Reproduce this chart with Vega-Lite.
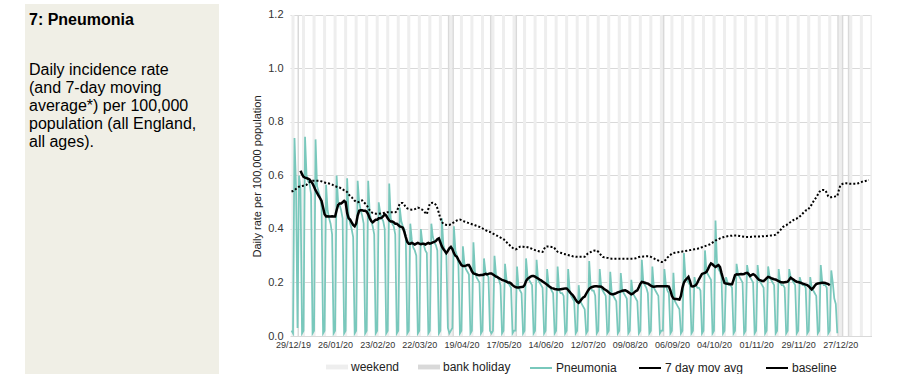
{
"$schema": "https://vega.github.io/schema/vega-lite/v6.json",
"padding": {"left": 25, "top": 4, "right": 0, "bottom": 0},
"spacing": 32,
"background": "white",
"config": {"view": {"stroke": null}, "font": "Liberation Sans", "legend": {"layout": {"bottom": {"anchor": "middle", "direction": "horizontal", "margin": 18}}}},
"resolve": {"scale": {"fill": "independent", "stroke": "independent"}, "legend": {"fill": "independent", "stroke": "independent"}},
"datasets": {
"weekends": [
{"s":"2019-12-28","e":"2019-12-30"},{"s":"2020-01-04","e":"2020-01-06"},{"s":"2020-01-11","e":"2020-01-13"},{"s":"2020-01-18","e":"2020-01-20"},{"s":"2020-01-25","e":"2020-01-27"},{"s":"2020-02-01","e":"2020-02-03"},{"s":"2020-02-08","e":"2020-02-10"},{"s":"2020-02-15","e":"2020-02-17"},{"s":"2020-02-22","e":"2020-02-24"},{"s":"2020-02-29","e":"2020-03-02"},{"s":"2020-03-07","e":"2020-03-09"},{"s":"2020-03-14","e":"2020-03-16"},{"s":"2020-03-21","e":"2020-03-23"},{"s":"2020-03-28","e":"2020-03-30"},{"s":"2020-04-04","e":"2020-04-06"},{"s":"2020-04-11","e":"2020-04-13"},{"s":"2020-04-18","e":"2020-04-20"},{"s":"2020-04-25","e":"2020-04-27"},{"s":"2020-05-02","e":"2020-05-04"},{"s":"2020-05-09","e":"2020-05-11"},{"s":"2020-05-16","e":"2020-05-18"},{"s":"2020-05-23","e":"2020-05-25"},{"s":"2020-05-30","e":"2020-06-01"},{"s":"2020-06-06","e":"2020-06-08"},{"s":"2020-06-13","e":"2020-06-15"},{"s":"2020-06-20","e":"2020-06-22"},{"s":"2020-06-27","e":"2020-06-29"},{"s":"2020-07-04","e":"2020-07-06"},{"s":"2020-07-11","e":"2020-07-13"},{"s":"2020-07-18","e":"2020-07-20"},{"s":"2020-07-25","e":"2020-07-27"},{"s":"2020-08-01","e":"2020-08-03"},{"s":"2020-08-08","e":"2020-08-10"},{"s":"2020-08-15","e":"2020-08-17"},{"s":"2020-08-22","e":"2020-08-24"},{"s":"2020-08-29","e":"2020-08-31"},{"s":"2020-09-05","e":"2020-09-07"},{"s":"2020-09-12","e":"2020-09-14"},{"s":"2020-09-19","e":"2020-09-21"},{"s":"2020-09-26","e":"2020-09-28"},{"s":"2020-10-03","e":"2020-10-05"},{"s":"2020-10-10","e":"2020-10-12"},{"s":"2020-10-17","e":"2020-10-19"},{"s":"2020-10-24","e":"2020-10-26"},{"s":"2020-10-31","e":"2020-11-02"},{"s":"2020-11-07","e":"2020-11-09"},{"s":"2020-11-14","e":"2020-11-16"},{"s":"2020-11-21","e":"2020-11-23"},{"s":"2020-11-28","e":"2020-11-30"},{"s":"2020-12-05","e":"2020-12-07"},{"s":"2020-12-12","e":"2020-12-14"},{"s":"2020-12-19","e":"2020-12-21"},{"s":"2020-12-26","e":"2020-12-28"},{"s":"2021-01-02","e":"2021-01-04"},{"s":"2021-01-09","e":"2021-01-11"},{"s":"2021-01-16","e":"2021-01-18"}
],
"holidays": [
{"s":"2020-01-01","e":"2020-01-02"},{"s":"2020-04-10","e":"2020-04-11"},{"s":"2020-04-13","e":"2020-04-14"},{"s":"2020-05-08","e":"2020-05-09"},{"s":"2020-05-25","e":"2020-05-26"},{"s":"2020-08-31","e":"2020-09-01"},{"s":"2020-12-25","e":"2020-12-26"},{"s":"2020-12-28","e":"2020-12-29"},{"s":"2021-01-01","e":"2021-01-02"}
],
"daily": [
{"d":"2019-12-28","p":0.02,"b":0.54},
{"d":"2019-12-29","p":0.01,"b":0.542},
{"d":"2019-12-30","p":0.74,"b":0.545},
{"d":"2019-12-31","p":0.56,"b":0.55},
{"d":"2020-01-01","p":0.03,"b":0.555},
{"d":"2020-01-02","p":0.60,"b":0.558},
{"d":"2020-01-03","p":0.55,"m":0.618,"b":0.56},
{"d":"2020-01-04","p":0.01,"m":0.605,"b":0.561},
{"d":"2020-01-05","p":0.02,"m":0.595,"b":0.562},
{"d":"2020-01-06","p":0.745,"m":0.592,"b":0.563},
{"d":"2020-01-07","p":0.60,"m":0.59,"b":0.565},
{"d":"2020-01-08","p":0.58,"m":0.588,"b":0.57},
{"d":"2020-01-09","p":0.57,"m":0.585,"b":0.575},
{"d":"2020-01-10","p":0.53,"m":0.578,"b":0.578},
{"d":"2020-01-11","p":0.01,"m":0.57,"b":0.58},
{"d":"2020-01-12","p":0.02,"m":0.558,"b":0.58},
{"d":"2020-01-13","p":0.735,"m":0.545,"b":0.58},
{"d":"2020-01-14","p":0.56,"m":0.535,"b":0.58},
{"d":"2020-01-15","p":0.54,"m":0.525,"b":0.58},
{"d":"2020-01-16","p":0.52,"m":0.515,"b":0.58},
{"d":"2020-01-17","p":0.48,"m":0.505,"b":0.578},
{"d":"2020-01-18","p":0.01,"m":0.48,"b":0.576},
{"d":"2020-01-19","p":0.02,"m":0.455,"b":0.574},
{"d":"2020-01-20","p":0.565,"m":0.447,"b":0.572},
{"d":"2020-01-21","p":0.47,"m":0.448,"b":0.571},
{"d":"2020-01-22","p":0.44,"m":0.447,"b":0.57},
{"d":"2020-01-23","p":0.42,"m":0.447,"b":0.568},
{"d":"2020-01-24","p":0.38,"m":0.448,"b":0.566},
{"d":"2020-01-25","p":0.01,"m":0.447,"b":0.563},
{"d":"2020-01-26","p":0.02,"m":0.447,"b":0.56},
{"d":"2020-01-27","p":0.60,"m":0.47,"b":0.558},
{"d":"2020-01-28","p":0.50,"m":0.49,"b":0.556},
{"d":"2020-01-29","p":0.49,"m":0.495,"b":0.555},
{"d":"2020-01-30","p":0.47,"m":0.495,"b":0.552},
{"d":"2020-01-31","p":0.44,"m":0.50,"b":0.548},
{"d":"2020-02-01","p":0.01,"m":0.505,"b":0.545},
{"d":"2020-02-02","p":0.02,"m":0.50,"b":0.543},
{"d":"2020-02-03","p":0.59,"m":0.46,"b":0.538},
{"d":"2020-02-04","p":0.45,"m":0.44,"b":0.53},
{"d":"2020-02-05","p":0.42,"m":0.435,"b":0.523},
{"d":"2020-02-06","p":0.40,"m":0.425,"b":0.519},
{"d":"2020-02-07","p":0.37,"m":0.415,"b":0.512},
{"d":"2020-02-08","p":0.01,"m":0.41,"b":0.506},
{"d":"2020-02-09","p":0.02,"m":0.42,"b":0.502},
{"d":"2020-02-10","p":0.58,"m":0.45,"b":0.50},
{"d":"2020-02-11","p":0.50,"m":0.468,"b":0.502},
{"d":"2020-02-12","p":0.47,"m":0.47,"b":0.505},
{"d":"2020-02-13","p":0.45,"m":0.47,"b":0.507},
{"d":"2020-02-14","p":0.42,"m":0.468,"b":0.50},
{"d":"2020-02-15","p":0.01,"m":0.468,"b":0.495},
{"d":"2020-02-16","p":0.02,"m":0.465,"b":0.489},
{"d":"2020-02-17","p":0.58,"m":0.455,"b":0.48},
{"d":"2020-02-18","p":0.46,"m":0.44,"b":0.47},
{"d":"2020-02-19","p":0.43,"m":0.43,"b":0.463},
{"d":"2020-02-20","p":0.41,"m":0.425,"b":0.46},
{"d":"2020-02-21","p":0.38,"m":0.43,"b":0.458},
{"d":"2020-02-22","p":0.01,"m":0.435,"b":0.457},
{"d":"2020-02-23","p":0.02,"m":0.435,"b":0.457},
{"d":"2020-02-24","p":0.50,"m":0.44,"b":0.457},
{"d":"2020-02-25","p":0.46,"m":0.44,"b":0.458},
{"d":"2020-02-26","p":0.44,"m":0.442,"b":0.459},
{"d":"2020-02-27","p":0.43,"m":0.448,"b":0.46},
{"d":"2020-02-28","p":0.40,"m":0.455,"b":0.461},
{"d":"2020-02-29","p":0.01,"m":0.45,"b":0.462},
{"d":"2020-03-01","p":0.02,"m":0.44,"b":0.463},
{"d":"2020-03-02","p":0.57,"m":0.432,"b":0.463},
{"d":"2020-03-03","p":0.44,"m":0.428,"b":0.463},
{"d":"2020-03-04","p":0.42,"m":0.428,"b":0.463},
{"d":"2020-03-05","p":0.41,"m":0.425,"b":0.463},
{"d":"2020-03-06","p":0.38,"m":0.42,"b":0.463},
{"d":"2020-03-07","p":0.01,"m":0.42,"b":0.465},
{"d":"2020-03-08","p":0.02,"m":0.415,"b":0.48},
{"d":"2020-03-09","p":0.48,"m":0.41,"b":0.495},
{"d":"2020-03-10","p":0.43,"m":0.408,"b":0.497},
{"d":"2020-03-11","p":0.41,"m":0.405,"b":0.497},
{"d":"2020-03-12","p":0.40,"m":0.39,"b":0.49},
{"d":"2020-03-13","p":0.37,"m":0.37,"b":0.482},
{"d":"2020-03-14","p":0.01,"m":0.352,"b":0.477},
{"d":"2020-03-15","p":0.02,"m":0.345,"b":0.475},
{"d":"2020-03-16","p":0.42,"m":0.345,"b":0.473},
{"d":"2020-03-17","p":0.36,"m":0.348,"b":0.472},
{"d":"2020-03-18","p":0.33,"m":0.345,"b":0.472},
{"d":"2020-03-19","p":0.32,"m":0.342,"b":0.474},
{"d":"2020-03-20","p":0.30,"m":0.345,"b":0.477},
{"d":"2020-03-21","p":0.01,"m":0.348,"b":0.48},
{"d":"2020-03-22","p":0.02,"m":0.345,"b":0.478},
{"d":"2020-03-23","p":0.40,"m":0.343,"b":0.475},
{"d":"2020-03-24","p":0.35,"m":0.345,"b":0.472},
{"d":"2020-03-25","p":0.34,"m":0.345,"b":0.468},
{"d":"2020-03-26","p":0.32,"m":0.342,"b":0.46},
{"d":"2020-03-27","p":0.31,"m":0.345,"b":0.455},
{"d":"2020-03-28","p":0.01,"m":0.348,"b":0.475},
{"d":"2020-03-29","p":0.02,"m":0.345,"b":0.495},
{"d":"2020-03-30","p":0.42,"m":0.347,"b":0.497},
{"d":"2020-03-31","p":0.37,"m":0.35,"b":0.498},
{"d":"2020-04-01","p":0.35,"m":0.352,"b":0.497},
{"d":"2020-04-02","p":0.34,"m":0.355,"b":0.49},
{"d":"2020-04-03","p":0.32,"m":0.362,"b":0.478},
{"d":"2020-04-04","p":0.01,"m":0.365,"b":0.46},
{"d":"2020-04-05","p":0.02,"m":0.35,"b":0.44},
{"d":"2020-04-06","p":0.44,"m":0.335,"b":0.426},
{"d":"2020-04-07","p":0.34,"m":0.325,"b":0.42},
{"d":"2020-04-08","p":0.32,"m":0.318,"b":0.417},
{"d":"2020-04-09","p":0.30,"m":0.31,"b":0.415},
{"d":"2020-04-10","p":0.03,"m":0.318,"b":0.414},
{"d":"2020-04-11","p":0.01,"m":0.328,"b":0.415},
{"d":"2020-04-12","p":0.02,"m":0.333,"b":0.418},
{"d":"2020-04-13","p":0.03,"m":0.325,"b":0.422},
{"d":"2020-04-14","p":0.41,"m":0.31,"b":0.425},
{"d":"2020-04-15","p":0.32,"m":0.30,"b":0.428},
{"d":"2020-04-16","p":0.30,"m":0.296,"b":0.432},
{"d":"2020-04-17","p":0.27,"m":0.285,"b":0.434},
{"d":"2020-04-18","p":0.01,"m":0.275,"b":0.435},
{"d":"2020-04-19","p":0.02,"m":0.265,"b":0.433},
{"d":"2020-04-20","p":0.335,"m":0.262,"b":0.43},
{"d":"2020-04-21","p":0.27,"m":0.262,"b":0.428},
{"d":"2020-04-22","p":0.25,"m":0.263,"b":0.426},
{"d":"2020-04-23","p":0.24,"m":0.265,"b":0.424},
{"d":"2020-04-24","p":0.23,"m":0.265,"b":0.422},
{"d":"2020-04-25","p":0.01,"m":0.255,"b":0.42},
{"d":"2020-04-26","p":0.02,"m":0.242,"b":0.418},
{"d":"2020-04-27","p":0.35,"m":0.234,"b":0.416},
{"d":"2020-04-28","p":0.24,"m":0.232,"b":0.414},
{"d":"2020-04-29","p":0.22,"m":0.23,"b":0.412},
{"d":"2020-04-30","p":0.21,"m":0.228,"b":0.41},
{"d":"2020-05-01","p":0.20,"m":0.227,"b":0.408},
{"d":"2020-05-02","p":0.01,"m":0.228,"b":0.405},
{"d":"2020-05-03","p":0.02,"m":0.228,"b":0.402},
{"d":"2020-05-04","p":0.29,"m":0.23,"b":0.399},
{"d":"2020-05-05","p":0.24,"m":0.232,"b":0.396},
{"d":"2020-05-06","p":0.23,"m":0.23,"b":0.393},
{"d":"2020-05-07","p":0.22,"m":0.232,"b":0.39},
{"d":"2020-05-08","p":0.02,"m":0.234,"b":0.389},
{"d":"2020-05-09","p":0.01,"m":0.234,"b":0.386},
{"d":"2020-05-10","p":0.02,"m":0.23,"b":0.383},
{"d":"2020-05-11","p":0.30,"m":0.226,"b":0.38},
{"d":"2020-05-12","p":0.23,"m":0.222,"b":0.377},
{"d":"2020-05-13","p":0.22,"m":0.22,"b":0.374},
{"d":"2020-05-14","p":0.21,"m":0.216,"b":0.371},
{"d":"2020-05-15","p":0.19,"m":0.213,"b":0.368},
{"d":"2020-05-16","p":0.01,"m":0.21,"b":0.365},
{"d":"2020-05-17","p":0.02,"m":0.208,"b":0.362},
{"d":"2020-05-18","p":0.27,"m":0.206,"b":0.357},
{"d":"2020-05-19","p":0.21,"m":0.203,"b":0.351},
{"d":"2020-05-20","p":0.20,"m":0.20,"b":0.345},
{"d":"2020-05-21","p":0.19,"m":0.20,"b":0.34},
{"d":"2020-05-22","p":0.18,"m":0.196,"b":0.335},
{"d":"2020-05-23","p":0.01,"m":0.19,"b":0.33},
{"d":"2020-05-24","p":0.02,"m":0.186,"b":0.326},
{"d":"2020-05-25","p":0.02,"m":0.183,"b":0.324},
{"d":"2020-05-26","p":0.26,"m":0.181,"b":0.326},
{"d":"2020-05-27","p":0.18,"m":0.181,"b":0.33},
{"d":"2020-05-28","p":0.17,"m":0.182,"b":0.334},
{"d":"2020-05-29","p":0.16,"m":0.183,"b":0.335},
{"d":"2020-05-30","p":0.01,"m":0.184,"b":0.334},
{"d":"2020-05-31","p":0.02,"m":0.19,"b":0.333},
{"d":"2020-06-01","p":0.29,"m":0.205,"b":0.333},
{"d":"2020-06-02","p":0.22,"m":0.214,"b":0.332},
{"d":"2020-06-03","p":0.21,"m":0.218,"b":0.33},
{"d":"2020-06-04","p":0.20,"m":0.222,"b":0.328},
{"d":"2020-06-05","p":0.19,"m":0.224,"b":0.326},
{"d":"2020-06-06","p":0.01,"m":0.224,"b":0.323},
{"d":"2020-06-07","p":0.02,"m":0.222,"b":0.321},
{"d":"2020-06-08","p":0.285,"m":0.218,"b":0.32},
{"d":"2020-06-09","p":0.21,"m":0.215,"b":0.318},
{"d":"2020-06-10","p":0.20,"m":0.211,"b":0.316},
{"d":"2020-06-11","p":0.19,"m":0.208,"b":0.315},
{"d":"2020-06-12","p":0.18,"m":0.204,"b":0.314},
{"d":"2020-06-13","p":0.01,"m":0.20,"b":0.325},
{"d":"2020-06-14","p":0.02,"m":0.196,"b":0.334},
{"d":"2020-06-15","p":0.25,"m":0.192,"b":0.335},
{"d":"2020-06-16","p":0.19,"m":0.187,"b":0.335},
{"d":"2020-06-17","p":0.18,"m":0.183,"b":0.334},
{"d":"2020-06-18","p":0.17,"m":0.179,"b":0.333},
{"d":"2020-06-19","p":0.16,"m":0.178,"b":0.333},
{"d":"2020-06-20","p":0.01,"m":0.176,"b":0.328},
{"d":"2020-06-21","p":0.02,"m":0.175,"b":0.32},
{"d":"2020-06-22","p":0.26,"m":0.174,"b":0.315},
{"d":"2020-06-23","p":0.17,"m":0.174,"b":0.313},
{"d":"2020-06-24","p":0.16,"m":0.175,"b":0.311},
{"d":"2020-06-25","p":0.16,"m":0.176,"b":0.309},
{"d":"2020-06-26","p":0.15,"m":0.177,"b":0.307},
{"d":"2020-06-27","p":0.01,"m":0.178,"b":0.306},
{"d":"2020-06-28","p":0.02,"m":0.178,"b":0.305},
{"d":"2020-06-29","p":0.25,"m":0.172,"b":0.303},
{"d":"2020-06-30","p":0.17,"m":0.165,"b":0.301},
{"d":"2020-07-01","p":0.15,"m":0.158,"b":0.30},
{"d":"2020-07-02","p":0.14,"m":0.153,"b":0.298},
{"d":"2020-07-03","p":0.13,"m":0.145,"b":0.297},
{"d":"2020-07-04","p":0.01,"m":0.135,"b":0.296},
{"d":"2020-07-05","p":0.02,"m":0.128,"b":0.296},
{"d":"2020-07-06","p":0.19,"m":0.124,"b":0.296},
{"d":"2020-07-07","p":0.13,"m":0.13,"b":0.296},
{"d":"2020-07-08","p":0.12,"m":0.138,"b":0.296},
{"d":"2020-07-09","p":0.11,"m":0.144,"b":0.296},
{"d":"2020-07-10","p":0.10,"m":0.147,"b":0.296},
{"d":"2020-07-11","p":0.01,"m":0.158,"b":0.302},
{"d":"2020-07-12","p":0.02,"m":0.168,"b":0.308},
{"d":"2020-07-13","p":0.28,"m":0.176,"b":0.312},
{"d":"2020-07-14","p":0.18,"m":0.181,"b":0.314},
{"d":"2020-07-15","p":0.17,"m":0.183,"b":0.317},
{"d":"2020-07-16","p":0.17,"m":0.185,"b":0.319},
{"d":"2020-07-17","p":0.15,"m":0.186,"b":0.32},
{"d":"2020-07-18","p":0.01,"m":0.186,"b":0.32},
{"d":"2020-07-19","p":0.02,"m":0.185,"b":0.315},
{"d":"2020-07-20","p":0.25,"m":0.185,"b":0.308},
{"d":"2020-07-21","p":0.18,"m":0.184,"b":0.302},
{"d":"2020-07-22","p":0.17,"m":0.18,"b":0.296},
{"d":"2020-07-23","p":0.16,"m":0.175,"b":0.294},
{"d":"2020-07-24","p":0.15,"m":0.172,"b":0.293},
{"d":"2020-07-25","p":0.01,"m":0.168,"b":0.292},
{"d":"2020-07-26","p":0.02,"m":0.163,"b":0.291},
{"d":"2020-07-27","p":0.24,"m":0.158,"b":0.29},
{"d":"2020-07-28","p":0.16,"m":0.156,"b":0.289},
{"d":"2020-07-29","p":0.15,"m":0.156,"b":0.289},
{"d":"2020-07-30","p":0.14,"m":0.158,"b":0.289},
{"d":"2020-07-31","p":0.13,"m":0.16,"b":0.289},
{"d":"2020-08-01","p":0.01,"m":0.163,"b":0.289},
{"d":"2020-08-02","p":0.02,"m":0.165,"b":0.289},
{"d":"2020-08-03","p":0.235,"m":0.167,"b":0.289},
{"d":"2020-08-04","p":0.17,"m":0.169,"b":0.289},
{"d":"2020-08-05","p":0.16,"m":0.17,"b":0.289},
{"d":"2020-08-06","p":0.15,"m":0.171,"b":0.289},
{"d":"2020-08-07","p":0.14,"m":0.168,"b":0.289},
{"d":"2020-08-08","p":0.01,"m":0.164,"b":0.289},
{"d":"2020-08-09","p":0.02,"m":0.16,"b":0.289},
{"d":"2020-08-10","p":0.21,"m":0.156,"b":0.289},
{"d":"2020-08-11","p":0.16,"m":0.158,"b":0.289},
{"d":"2020-08-12","p":0.15,"m":0.163,"b":0.29},
{"d":"2020-08-13","p":0.14,"m":0.168,"b":0.291},
{"d":"2020-08-14","p":0.13,"m":0.171,"b":0.293},
{"d":"2020-08-15","p":0.01,"m":0.182,"b":0.295},
{"d":"2020-08-16","p":0.02,"m":0.195,"b":0.296},
{"d":"2020-08-17","p":0.285,"m":0.202,"b":0.296},
{"d":"2020-08-18","p":0.20,"m":0.201,"b":0.297},
{"d":"2020-08-19","p":0.19,"m":0.199,"b":0.297},
{"d":"2020-08-20","p":0.18,"m":0.197,"b":0.298},
{"d":"2020-08-21","p":0.16,"m":0.196,"b":0.298},
{"d":"2020-08-22","p":0.01,"m":0.192,"b":0.298},
{"d":"2020-08-23","p":0.02,"m":0.188,"b":0.296},
{"d":"2020-08-24","p":0.26,"m":0.185,"b":0.293},
{"d":"2020-08-25","p":0.18,"m":0.184,"b":0.29},
{"d":"2020-08-26","p":0.17,"m":0.185,"b":0.287},
{"d":"2020-08-27","p":0.16,"m":0.186,"b":0.285},
{"d":"2020-08-28","p":0.15,"m":0.186,"b":0.282},
{"d":"2020-08-29","p":0.01,"m":0.186,"b":0.279},
{"d":"2020-08-30","p":0.02,"m":0.186,"b":0.277},
{"d":"2020-08-31","p":0.02,"m":0.186,"b":0.277},
{"d":"2020-09-01","p":0.25,"m":0.186,"b":0.28},
{"d":"2020-09-02","p":0.19,"m":0.186,"b":0.286},
{"d":"2020-09-03","p":0.17,"m":0.186,"b":0.293},
{"d":"2020-09-04","p":0.16,"m":0.185,"b":0.298},
{"d":"2020-09-05","p":0.01,"m":0.17,"b":0.303},
{"d":"2020-09-06","p":0.02,"m":0.15,"b":0.308},
{"d":"2020-09-07","p":0.236,"m":0.14,"b":0.31},
{"d":"2020-09-08","p":0.13,"m":0.138,"b":0.311},
{"d":"2020-09-09","p":0.12,"m":0.138,"b":0.312},
{"d":"2020-09-10","p":0.11,"m":0.137,"b":0.313},
{"d":"2020-09-11","p":0.10,"m":0.136,"b":0.314},
{"d":"2020-09-12","p":0.01,"m":0.15,"b":0.315},
{"d":"2020-09-13","p":0.02,"m":0.18,"b":0.316},
{"d":"2020-09-14","p":0.31,"m":0.20,"b":0.317},
{"d":"2020-09-15","p":0.22,"m":0.209,"b":0.318},
{"d":"2020-09-16","p":0.21,"m":0.215,"b":0.319},
{"d":"2020-09-17","p":0.20,"m":0.221,"b":0.32},
{"d":"2020-09-18","p":0.19,"m":0.205,"b":0.321},
{"d":"2020-09-19","p":0.01,"m":0.186,"b":0.322},
{"d":"2020-09-20","p":0.02,"m":0.185,"b":0.323},
{"d":"2020-09-21","p":0.22,"m":0.187,"b":0.324},
{"d":"2020-09-22","p":0.19,"m":0.19,"b":0.325},
{"d":"2020-09-23","p":0.18,"m":0.20,"b":0.326},
{"d":"2020-09-24","p":0.18,"m":0.212,"b":0.328},
{"d":"2020-09-25","p":0.17,"m":0.222,"b":0.33},
{"d":"2020-09-26","p":0.01,"m":0.232,"b":0.332},
{"d":"2020-09-27","p":0.02,"m":0.234,"b":0.334},
{"d":"2020-09-28","p":0.32,"m":0.236,"b":0.336},
{"d":"2020-09-29","p":0.24,"m":0.24,"b":0.338},
{"d":"2020-09-30","p":0.23,"m":0.25,"b":0.34},
{"d":"2020-10-01","p":0.22,"m":0.262,"b":0.342},
{"d":"2020-10-02","p":0.21,"m":0.271,"b":0.345},
{"d":"2020-10-03","p":0.01,"m":0.268,"b":0.349},
{"d":"2020-10-04","p":0.02,"m":0.262,"b":0.353},
{"d":"2020-10-05","p":0.432,"m":0.258,"b":0.357},
{"d":"2020-10-06","p":0.27,"m":0.262,"b":0.36},
{"d":"2020-10-07","p":0.25,"m":0.265,"b":0.362},
{"d":"2020-10-08","p":0.24,"m":0.258,"b":0.365},
{"d":"2020-10-09","p":0.22,"m":0.235,"b":0.367},
{"d":"2020-10-10","p":0.01,"m":0.215,"b":0.369},
{"d":"2020-10-11","p":0.02,"m":0.198,"b":0.371},
{"d":"2020-10-12","p":0.22,"m":0.196,"b":0.372},
{"d":"2020-10-13","p":0.20,"m":0.195,"b":0.373},
{"d":"2020-10-14","p":0.19,"m":0.194,"b":0.374},
{"d":"2020-10-15","p":0.19,"m":0.193,"b":0.375},
{"d":"2020-10-16","p":0.18,"m":0.193,"b":0.375},
{"d":"2020-10-17","p":0.01,"m":0.21,"b":0.376},
{"d":"2020-10-18","p":0.02,"m":0.228,"b":0.376},
{"d":"2020-10-19","p":0.27,"m":0.231,"b":0.376},
{"d":"2020-10-20","p":0.23,"m":0.23,"b":0.375},
{"d":"2020-10-21","p":0.22,"m":0.231,"b":0.374},
{"d":"2020-10-22","p":0.21,"m":0.232,"b":0.373},
{"d":"2020-10-23","p":0.20,"m":0.231,"b":0.372},
{"d":"2020-10-24","p":0.01,"m":0.232,"b":0.371},
{"d":"2020-10-25","p":0.02,"m":0.235,"b":0.37},
{"d":"2020-10-26","p":0.265,"m":0.236,"b":0.37},
{"d":"2020-10-27","p":0.23,"m":0.232,"b":0.37},
{"d":"2020-10-28","p":0.22,"m":0.224,"b":0.37},
{"d":"2020-10-29","p":0.21,"m":0.228,"b":0.371},
{"d":"2020-10-30","p":0.20,"m":0.231,"b":0.371},
{"d":"2020-10-31","p":0.01,"m":0.228,"b":0.372},
{"d":"2020-11-01","p":0.02,"m":0.222,"b":0.372},
{"d":"2020-11-02","p":0.265,"m":0.215,"b":0.372},
{"d":"2020-11-03","p":0.21,"m":0.21,"b":0.372},
{"d":"2020-11-04","p":0.20,"m":0.208,"b":0.372},
{"d":"2020-11-05","p":0.19,"m":0.206,"b":0.373},
{"d":"2020-11-06","p":0.18,"m":0.206,"b":0.373},
{"d":"2020-11-07","p":0.01,"m":0.21,"b":0.374},
{"d":"2020-11-08","p":0.02,"m":0.216,"b":0.374},
{"d":"2020-11-09","p":0.26,"m":0.221,"b":0.375},
{"d":"2020-11-10","p":0.22,"m":0.219,"b":0.375},
{"d":"2020-11-11","p":0.21,"m":0.216,"b":0.376},
{"d":"2020-11-12","p":0.20,"m":0.214,"b":0.376},
{"d":"2020-11-13","p":0.19,"m":0.212,"b":0.377},
{"d":"2020-11-14","p":0.01,"m":0.211,"b":0.379},
{"d":"2020-11-15","p":0.02,"m":0.208,"b":0.384},
{"d":"2020-11-16","p":0.25,"m":0.205,"b":0.389},
{"d":"2020-11-17","p":0.20,"m":0.202,"b":0.395},
{"d":"2020-11-18","p":0.19,"m":0.201,"b":0.402},
{"d":"2020-11-19","p":0.19,"m":0.20,"b":0.408},
{"d":"2020-11-20","p":0.18,"m":0.201,"b":0.412},
{"d":"2020-11-21","p":0.01,"m":0.202,"b":0.414},
{"d":"2020-11-22","p":0.02,"m":0.203,"b":0.418},
{"d":"2020-11-23","p":0.25,"m":0.21,"b":0.422},
{"d":"2020-11-24","p":0.22,"m":0.218,"b":0.426},
{"d":"2020-11-25","p":0.21,"m":0.214,"b":0.43},
{"d":"2020-11-26","p":0.20,"m":0.21,"b":0.434},
{"d":"2020-11-27","p":0.19,"m":0.206,"b":0.438},
{"d":"2020-11-28","p":0.01,"m":0.203,"b":0.439},
{"d":"2020-11-29","p":0.02,"m":0.202,"b":0.442},
{"d":"2020-11-30","p":0.22,"m":0.20,"b":0.447},
{"d":"2020-12-01","p":0.20,"m":0.198,"b":0.452},
{"d":"2020-12-02","p":0.19,"m":0.196,"b":0.458},
{"d":"2020-12-03","p":0.19,"m":0.194,"b":0.464},
{"d":"2020-12-04","p":0.18,"m":0.192,"b":0.469},
{"d":"2020-12-05","p":0.01,"m":0.19,"b":0.47},
{"d":"2020-12-06","p":0.02,"m":0.186,"b":0.476},
{"d":"2020-12-07","p":0.22,"m":0.18,"b":0.483},
{"d":"2020-12-08","p":0.18,"m":0.174,"b":0.492},
{"d":"2020-12-09","p":0.17,"m":0.18,"b":0.502},
{"d":"2020-12-10","p":0.16,"m":0.188,"b":0.511},
{"d":"2020-12-11","p":0.15,"m":0.194,"b":0.518},
{"d":"2020-12-12","p":0.01,"m":0.196,"b":0.528},
{"d":"2020-12-13","p":0.02,"m":0.197,"b":0.538},
{"d":"2020-12-14","p":0.265,"m":0.198,"b":0.544},
{"d":"2020-12-15","p":0.20,"m":0.199,"b":0.546},
{"d":"2020-12-16","p":0.19,"m":0.199,"b":0.546},
{"d":"2020-12-17","p":0.19,"m":0.198,"b":0.545},
{"d":"2020-12-18","p":0.18,"m":0.196,"b":0.535},
{"d":"2020-12-19","p":0.01,"m":0.194,"b":0.522},
{"d":"2020-12-20","p":0.02,"m":0.19,"b":0.519},
{"d":"2020-12-21","p":0.245,"b":0.519},
{"d":"2020-12-22","p":0.20,"b":0.52},
{"d":"2020-12-23","p":0.14,"b":0.521},
{"d":"2020-12-24","p":0.12,"b":0.522},
{"d":"2020-12-25","p":0.01,"b":0.523},
{"d":"2020-12-26","b":0.545},
{"d":"2020-12-27","b":0.563},
{"d":"2020-12-28","b":0.567},
{"d":"2020-12-29","b":0.57},
{"d":"2020-12-30","b":0.571},
{"d":"2020-12-31","b":0.571},
{"d":"2021-01-01","b":0.57},
{"d":"2021-01-02","b":0.569},
{"d":"2021-01-03","b":0.569},
{"d":"2021-01-04","b":0.569},
{"d":"2021-01-05","b":0.569},
{"d":"2021-01-06","b":0.569},
{"d":"2021-01-07","b":0.569},
{"d":"2021-01-08","b":0.571},
{"d":"2021-01-09","b":0.573},
{"d":"2021-01-10","b":0.575},
{"d":"2021-01-11","b":0.578},
{"d":"2021-01-12","b":0.578},
{"d":"2021-01-13","b":0.58},
{"d":"2021-01-14","b":0.582},
{"d":"2021-01-15","b":0.583}
]
},
"hconcat": [
{
"width": 194, "height": 370,
"view": {"fill": "#f0efe6", "stroke": null},
"title": {
"text": "7: Pneumonia",
"subtitle": ["Daily incidence rate", "(and 7-day moving", "average*) per 100,000", "population (all England,", "all ages)."],
"anchor": "start", "frame": "group", "orient": "top", "offset": -146, "dx": 4,
"font": "Liberation Sans", "fontSize": 16, "fontWeight": "bold", "color": "#000000",
"subtitleFont": "Liberation Sans", "subtitleFontSize": 16, "subtitleFontWeight": "normal", "subtitleColor": "#000000", "subtitleLineHeight": 18, "subtitlePadding": 34
},
"data": {"values": [{"t": ""}]},
"mark": {"type": "text"},
"encoding": {"text": {"field": "t", "type": "nominal"}}
},
{
"width": 582, "height": 332,
"layer": [
{
"data": {"name": "weekends"},
"mark": {"type": "rect", "clip": true},
"encoding": {
"x": {"field": "s", "type": "temporal",
 "scale": {"type": "utc", "domain": [{"year": 2019, "month": 12, "date": 27, "utc": true}, {"year": 2021, "month": 1, "date": 17, "hours": 2, "utc": true}]},
 "axis": {"values": [{"year":2019,"month":12,"date":29,"utc":true},{"year":2020,"month":1,"date":26,"utc":true},{"year":2020,"month":2,"date":23,"utc":true},{"year":2020,"month":3,"date":22,"utc":true},{"year":2020,"month":4,"date":19,"utc":true},{"year":2020,"month":5,"date":17,"utc":true},{"year":2020,"month":6,"date":14,"utc":true},{"year":2020,"month":7,"date":12,"utc":true},{"year":2020,"month":8,"date":9,"utc":true},{"year":2020,"month":9,"date":6,"utc":true},{"year":2020,"month":10,"date":4,"utc":true},{"year":2020,"month":11,"date":1,"utc":true},{"year":2020,"month":11,"date":29,"utc":true},{"year":2020,"month":12,"date":27,"utc":true}],
  "format": "%d/%m/%y", "grid": false, "domain": false, "ticks": false, "labelPadding": 4,
  "labelFont": "Liberation Sans", "labelFontSize": 9, "labelColor": "#333333", "title": null, "labelOverlap": false}},
"x2": {"field": "e"},
"y": {"datum": 0, "type": "quantitative", "scale": {"domain": [0, 1.2411], "nice": false},
 "axis": {"values": [0, 0.2, 0.4, 0.6, 0.8, 1.0, 1.2], "format": ".1f", "grid": true, "gridColor": "#d9d9d9", "gridWidth": 1,
  "domain": false, "ticks": false, "labelPadding": 7, "labelFont": "Liberation Sans", "labelFontSize": 11, "labelColor": "#333333",
  "title": "Daily rate per 100,000 population", "titleFont": "Liberation Sans", "titleFontSize": 11, "titleFontWeight": "normal", "titleColor": "#222222", "titlePadding": 5, "titleY": 172}},
"y2": {"datum": 1.2},
"fill": {"datum": "weekend", "type": "nominal",
 "scale": {"domain": ["weekend", "bank holiday"], "range": ["#eeeeee", "#d9d9d9"]},
 "legend": {"orient": "bottom", "direction": "horizontal", "title": null, "offset": 7,
  "labelFont": "Liberation Sans", "labelFontSize": 12, "labelColor": "#222222", "labelOffset": 3, "columnPadding": 18,
  "symbolType": "M-1,-0.22H1V0.22H-1Z", "symbolSize": 484, "symbolStrokeWidth": 0}}
}
},
{
"data": {"name": "holidays"},
"mark": {"type": "rect", "clip": true},
"encoding": {
"x": {"field": "s", "type": "temporal"},
"x2": {"field": "e"},
"y": {"datum": 0, "type": "quantitative"},
"y2": {"datum": 1.2},
"fill": {"datum": "bank holiday", "type": "nominal"}
}
},
{
"data": {"name": "daily"},
"mark": {"type": "line", "strokeWidth": 1.75, "clip": true},
"encoding": {
"x": {"field": "d", "type": "temporal"},
"y": {"field": "p", "type": "quantitative"},
"stroke": {"datum": "Pneumonia", "type": "nominal",
 "scale": {"domain": ["Pneumonia", "7 day mov avg", "baseline"], "range": ["#79c8bc", "#000000", "#000000"]},
 "legend": {"orient": "bottom", "direction": "horizontal", "title": null, "offset": 7,
  "labelFont": "Liberation Sans", "labelFontSize": 12, "labelColor": "#222222", "labelOffset": 3, "columnPadding": 18,
  "symbolType": "stroke", "symbolSize": 484, "symbolStrokeWidth": 2}}
}
},
{
"data": {"name": "daily"},
"mark": {"type": "line", "strokeWidth": 2, "strokeDash": [2, 2], "clip": true},
"encoding": {
"x": {"field": "d", "type": "temporal"},
"y": {"field": "b", "type": "quantitative"},
"stroke": {"datum": "baseline", "type": "nominal"}
}
},
{
"data": {"name": "daily"},
"mark": {"type": "line", "strokeWidth": 2.5, "clip": true},
"encoding": {
"x": {"field": "d", "type": "temporal"},
"y": {"field": "m", "type": "quantitative"},
"stroke": {"datum": "7 day mov avg", "type": "nominal"}
}
}
]
}
]
}
